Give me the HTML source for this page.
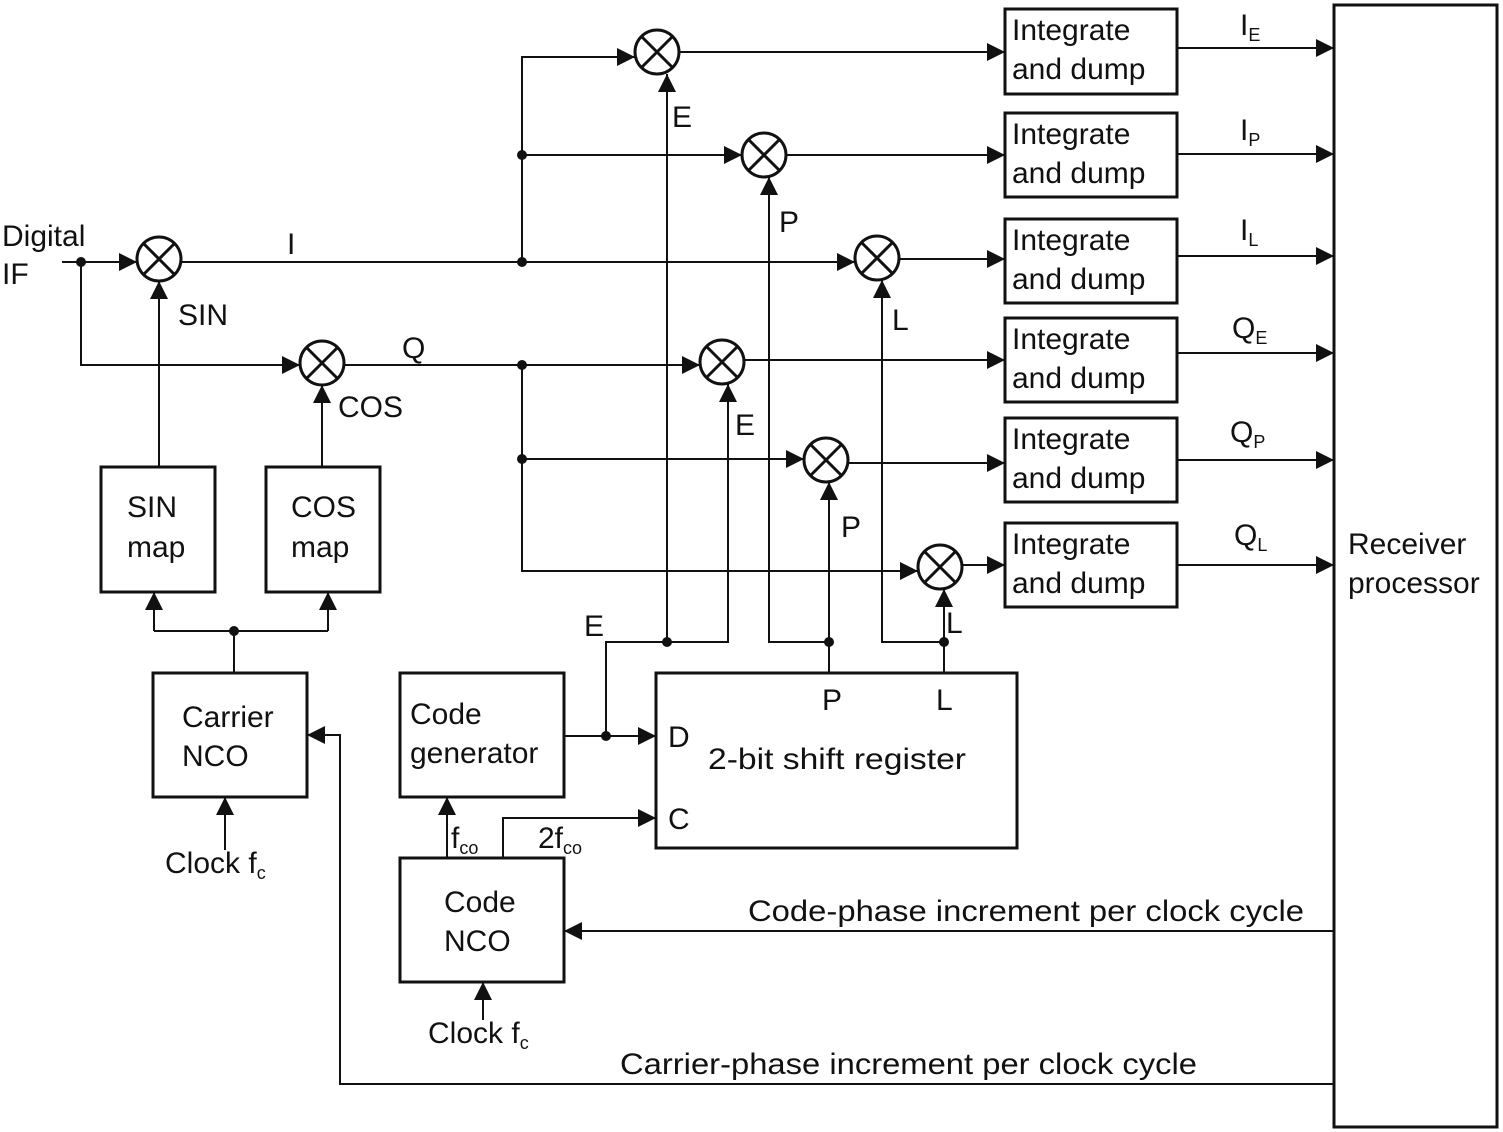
<!DOCTYPE html>
<html><head><meta charset="utf-8"><style>
html,body{margin:0;padding:0;background:#fff}
svg{display:block}
text{font-family:"Liberation Sans",sans-serif;font-size:30px;fill:#111}
.s{font-size:18px}
</style></head><body>
<svg width="1503" height="1132" viewBox="0 0 1503 1132" xmlns="http://www.w3.org/2000/svg">
<defs>
<marker id="a" viewBox="0 0 10 10" refX="10" refY="5" markerWidth="18" markerHeight="18" markerUnits="userSpaceOnUse" orient="auto"><path d="M0,0 L10,5 L0,10 z" fill="#111"/></marker>
<g id="mx"><circle r="22" fill="#fff" stroke="#111" stroke-width="3"/><path d="M-15.5,-15.5L15.5,15.5M15.5,-15.5L-15.5,15.5" stroke="#111" stroke-width="3"/></g>
</defs>
<g fill="none" stroke="#111" stroke-width="2">
<rect x="1334" y="5" width="163" height="1122" stroke-width="3"/>
<rect x="1005" y="9" width="172" height="85" stroke-width="3"/>
<rect x="1005" y="113" width="172" height="84" stroke-width="3"/>
<rect x="1005" y="219" width="172" height="84" stroke-width="3"/>
<rect x="1005" y="318" width="172" height="84" stroke-width="3"/>
<rect x="1005" y="418" width="172" height="84" stroke-width="3"/>
<rect x="1005" y="523" width="172" height="84" stroke-width="3"/>
<rect x="101" y="467" width="114" height="125" stroke-width="3"/>
<rect x="266" y="467" width="114" height="125" stroke-width="3"/>
<rect x="153" y="673" width="154" height="124" stroke-width="3"/>
<rect x="400" y="673" width="164" height="124" stroke-width="3"/>
<rect x="400" y="858" width="164" height="124" stroke-width="3"/>
<rect x="656" y="673" width="361" height="175" stroke-width="3"/>
<path d="M1177,48H1334" marker-end="url(#a)"/><path d="M1177,154H1334" marker-end="url(#a)"/><path d="M1177,256H1334" marker-end="url(#a)"/><path d="M1177,353H1334" marker-end="url(#a)"/><path d="M1177,460H1334" marker-end="url(#a)"/><path d="M1177,565H1334" marker-end="url(#a)"/>
<path d="M679,52H1005" marker-end="url(#a)"/>
<path d="M786,155H1005" marker-end="url(#a)"/>
<path d="M899,259H1005" marker-end="url(#a)"/>
<path d="M744,360H1005" marker-end="url(#a)"/>
<path d="M848,463H1005" marker-end="url(#a)"/>
<path d="M962,565H1005" marker-end="url(#a)"/>
<path d="M62,262H137" marker-end="url(#a)"/>
<path d="M181,262H855" marker-end="url(#a)"/>
<path d="M522,262V57H635" marker-end="url(#a)"/>
<path d="M522,155H742" marker-end="url(#a)"/>
<path d="M81,262V365H300" marker-end="url(#a)"/>
<path d="M344,365H700" marker-end="url(#a)"/>
<path d="M522,365V571H918" marker-end="url(#a)"/>
<path d="M522,459H804" marker-end="url(#a)"/>
<path d="M159,467V281" marker-end="url(#a)"/>
<path d="M322,467V385" marker-end="url(#a)"/>
<path d="M234,673V631"/>
<path d="M154,631H328"/>
<path d="M154,631V592" marker-end="url(#a)"/>
<path d="M328,631V592" marker-end="url(#a)"/>
<path d="M225,850V797" marker-end="url(#a)"/>
<path d="M483,1020V982" marker-end="url(#a)"/>
<path d="M1334,1084H340V735H307" marker-end="url(#a)"/>
<path d="M1334,931H564" marker-end="url(#a)"/>
<path d="M564,736H656" marker-end="url(#a)"/>
<path d="M606,736V642H728V384" marker-end="url(#a)"/>
<path d="M667,642V74" marker-end="url(#a)"/>
<path d="M829,673V482" marker-end="url(#a)"/>
<path d="M829,642H769V177" marker-end="url(#a)"/>
<path d="M944,673V589" marker-end="url(#a)"/>
<path d="M944,642H882V280" marker-end="url(#a)"/>
<path d="M447,858V797" marker-end="url(#a)"/>
<path d="M503,858V818H656" marker-end="url(#a)"/>
</g>
<g fill="#111">
<circle cx="81" cy="262" r="5"/><circle cx="522" cy="262" r="5"/><circle cx="522" cy="155" r="5"/>
<circle cx="522" cy="365" r="5"/><circle cx="522" cy="459" r="5"/><circle cx="234" cy="631" r="5"/>
<circle cx="606" cy="736" r="5"/><circle cx="667" cy="642" r="5"/><circle cx="829" cy="642" r="5"/><circle cx="944" cy="642" r="5"/>
</g>
<use href="#mx" x="159" y="259"/><use href="#mx" x="322" y="363"/>
<use href="#mx" x="657" y="52"/><use href="#mx" x="764" y="155"/><use href="#mx" x="877" y="258"/>
<use href="#mx" x="722" y="362"/><use href="#mx" x="826" y="460"/><use href="#mx" x="940" y="567"/>
<g>
<text x="1012" y="40">Integrate</text><text x="1012" y="79">and dump</text>
<text x="1012" y="144">Integrate</text><text x="1012" y="183">and dump</text>
<text x="1012" y="250">Integrate</text><text x="1012" y="289">and dump</text>
<text x="1012" y="349">Integrate</text><text x="1012" y="388">and dump</text>
<text x="1012" y="449">Integrate</text><text x="1012" y="488">and dump</text>
<text x="1012" y="554">Integrate</text><text x="1012" y="593">and dump</text>
<text x="1240" y="35">I<tspan class="s" dy="6">E</tspan></text>
<text x="1240" y="140">I<tspan class="s" dy="6">P</tspan></text>
<text x="1240" y="240">I<tspan class="s" dy="6">L</tspan></text>
<text x="1232" y="338">Q<tspan class="s" dy="6">E</tspan></text>
<text x="1230" y="442">Q<tspan class="s" dy="6">P</tspan></text>
<text x="1234" y="545">Q<tspan class="s" dy="6">L</tspan></text>
<text x="1348" y="554">Receiver</text><text x="1348" y="593">processor</text>
<text x="2" y="246">Digital</text><text x="2" y="284">IF</text>
<text x="287" y="254">I</text><text x="402" y="358">Q</text>
<text x="178" y="325">SIN</text><text x="338" y="417">COS</text>
<text x="127" y="517">SIN</text><text x="127" y="557">map</text>
<text x="291" y="517">COS</text><text x="291" y="557">map</text>
<text x="182" y="727">Carrier</text><text x="182" y="766">NCO</text>
<text x="410" y="724">Code</text><text x="410" y="763">generator</text>
<text x="444" y="912">Code</text><text x="444" y="951">NCO</text>
<text x="708" y="769" textLength="258" lengthAdjust="spacingAndGlyphs">2-bit shift register</text>
<text x="668" y="747">D</text><text x="668" y="829">C</text>
<text x="822" y="710">P</text><text x="936" y="710">L</text>
<text x="584" y="636">E</text>
<text x="672" y="127">E</text><text x="779" y="232">P</text><text x="892" y="330">L</text>
<text x="735" y="435">E</text><text x="841" y="537">P</text><text x="946" y="633">L</text>
<text x="451" y="848">f<tspan class="s" dy="6">co</tspan></text>
<text x="538" y="848">2f<tspan class="s" dy="6">co</tspan></text>
<text x="165" y="873">Clock f<tspan class="s" dy="6">c</tspan></text>
<text x="428" y="1043">Clock f<tspan class="s" dy="6">c</tspan></text>
<text x="748" y="921" textLength="556" lengthAdjust="spacingAndGlyphs">Code-phase increment per clock cycle</text>
<text x="620" y="1074" textLength="577" lengthAdjust="spacingAndGlyphs">Carrier-phase increment per clock cycle</text>
</g>
</svg>
</body></html>
